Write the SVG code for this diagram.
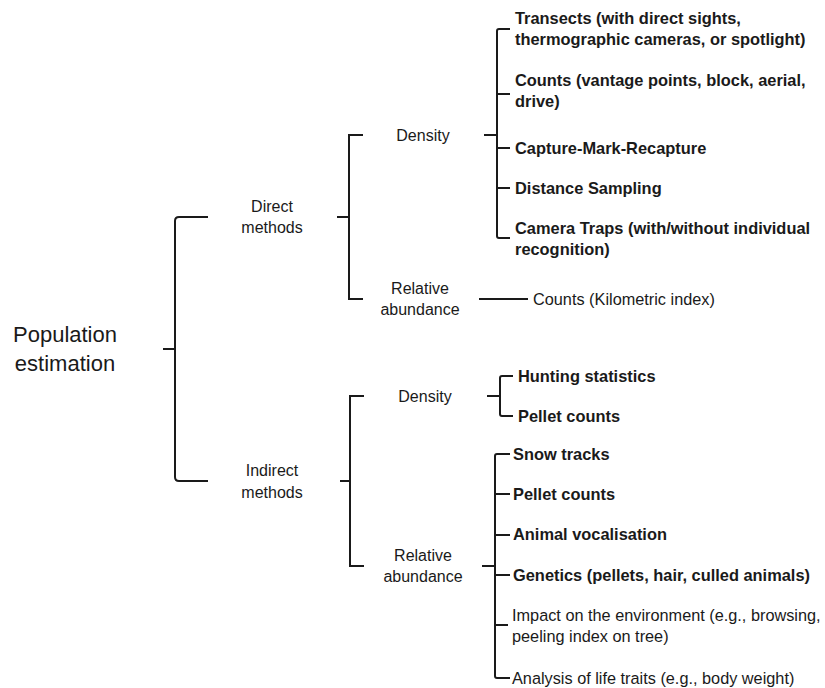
<svg xmlns="http://www.w3.org/2000/svg" width="825" height="688" viewBox="0 0 825 688">
<style>
  text { font-family: "Liberation Sans", Arial, sans-serif; fill: #1a1a1a; }
  .root { font-size: 22px; text-anchor: middle; }
  .mid { font-size: 16px; text-anchor: middle; }
  .leaf { font-size: 16.4px; font-weight: bold; }
  .leafr { font-size: 16.3px; }
  .br { fill: none; stroke: #1a1a1a; stroke-width: 2; }
</style>
<rect width="825" height="688" fill="#ffffff"/>
<g id="connectors">
  <path class="br" d="M208,217 H179 Q175,217 175,221 V477 Q175,481 179,481 H208 M163,349 H175"/>
  <path class="br" d="M363,135 H349 V299 H363 M337,217 H349"/>
  <path class="br" d="M364,396 H350 V566 H364 M340,481 H350"/>
  <path class="br" d="M510,29 H499 Q497,29 497,31 V236 Q497,238 499,238 H510 M497,94 H510 M497,148 H510 M497,188 H510 M484,135 H497"/>
  <path class="br" d="M479,299 H528"/>
  <path class="br" d="M513,376 H502 Q500,376 500,378 V414 Q500,416 502,416 H513 M487,396 H500"/>
  <path class="br" d="M510,454 H497 Q495,454 495,456 V676 Q495,678 497,678 H510 M495,494 H510 M495,535 H510 M495,575 H510 M495,625 H508 M482,566 H495"/>
</g>
<g id="node-population">
  <text class="root" x="65" y="342">Population</text>
  <text class="root" x="65" y="371">estimation</text>
</g>
<g id="node-direct">
  <text class="mid" x="272" y="211.5">Direct</text>
  <text class="mid" x="272" y="233">methods</text>
</g>
<g id="node-indirect">
  <text class="mid" x="272" y="476">Indirect</text>
  <text class="mid" x="272" y="498">methods</text>
</g>
<g id="node-direct-density">
  <text class="mid" x="423" y="140.5">Density</text>
</g>
<g id="node-direct-relative">
  <text class="mid" x="420" y="294">Relative</text>
  <text class="mid" x="420" y="315">abundance</text>
</g>
<g id="node-indirect-density">
  <text class="mid" x="425" y="401.5">Density</text>
</g>
<g id="node-indirect-relative">
  <text class="mid" x="423" y="561">Relative</text>
  <text class="mid" x="423" y="582">abundance</text>
</g>
<g id="node-transects">
  <text class="leaf" x="515" y="24">Transects (with direct sights,</text>
  <text class="leaf" x="515" y="44.5">thermographic cameras, or spotlight)</text>
</g>
<g id="node-counts">
  <text class="leaf" x="515" y="86">Counts (vantage points, block, aerial,</text>
  <text class="leaf" x="515" y="107">drive)</text>
</g>
<g id="node-cmr">
  <text class="leaf" x="515" y="154">Capture-Mark-Recapture</text>
</g>
<g id="node-distance">
  <text class="leaf" x="515" y="194">Distance Sampling</text>
</g>
<g id="node-camera">
  <text class="leaf" x="515" y="234">Camera Traps (with/without individual</text>
  <text class="leaf" x="515" y="254.5">recognition)</text>
</g>
<g id="node-kilometric">
  <text class="leafr" x="533" y="305">Counts (Kilometric index)</text>
</g>
<g id="node-hunting">
  <text class="leaf" x="518" y="382">Hunting statistics</text>
</g>
<g id="node-pellet1">
  <text class="leaf" x="518" y="422">Pellet counts</text>
</g>
<g id="node-snow">
  <text class="leaf" x="513" y="460">Snow tracks</text>
</g>
<g id="node-pellet2">
  <text class="leaf" x="513" y="500">Pellet counts</text>
</g>
<g id="node-vocal">
  <text class="leaf" x="513" y="540">Animal vocalisation</text>
</g>
<g id="node-genetics">
  <text class="leaf" x="513" y="580.5">Genetics (pellets, hair, culled animals)</text>
</g>
<g id="node-impact">
  <text class="leafr" x="512" y="621">Impact on the environment (e.g., browsing,</text>
  <text class="leafr" x="512" y="642">peeling index on tree)</text>
</g>
<g id="node-analysis">
  <text class="leafr" x="512" y="684">Analysis of life traits (e.g., body weight)</text>
</g>
</svg>
